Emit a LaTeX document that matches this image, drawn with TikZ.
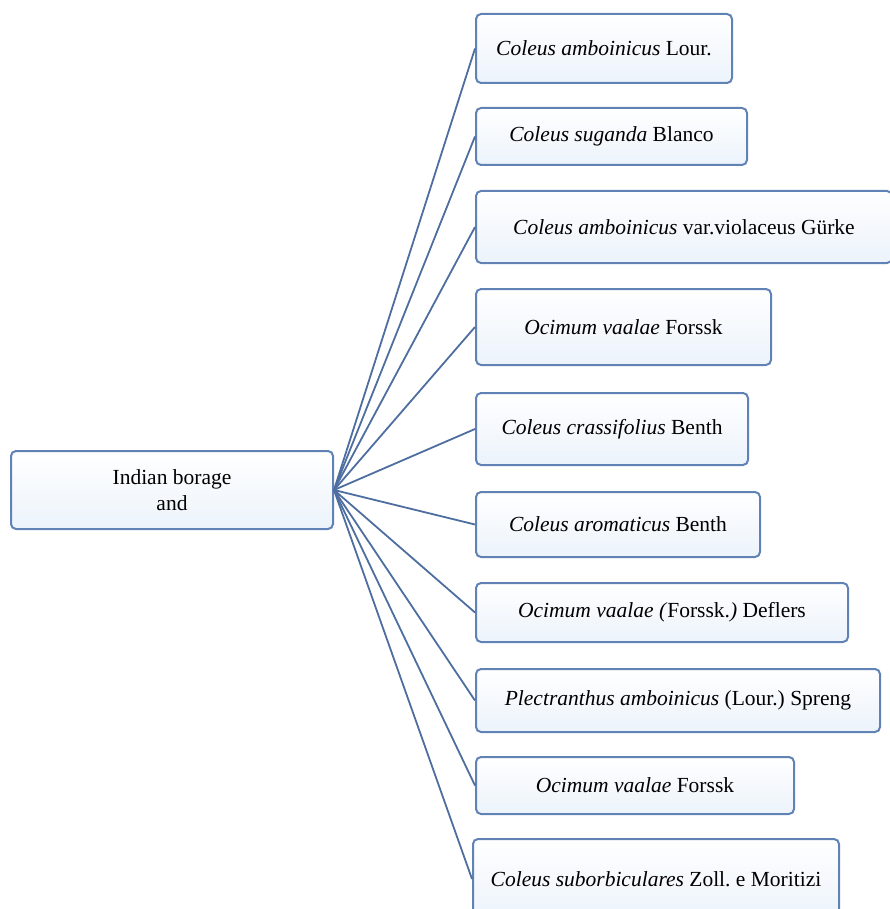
\documentclass[tikz,border=0pt]{standalone}
\usepackage{fontspec}
\setmainfont{Liberation Serif}
\usetikzlibrary{shapes}
\frenchspacing
\definecolor{bxline}{RGB}{96,130,180}
\definecolor{lnk}{RGB}{78,110,160}
\definecolor{bxfill}{RGB}{236,243,251}
\tikzstyle{bx}=[draw=bxline,line width=2pt,rounded corners=5pt,top color=white,bottom color=bxfill,
  anchor=north west,inner sep=2pt,align=center,font=\fontsize{21.5}{26}\selectfont]
\tikzstyle{lk}=[draw=lnk,line width=1.8pt]

\begin{document}
\begin{tikzpicture}[x=1pt,y=-1pt]
\useasboundingbox (0,0) rectangle (889,909);
\node[bx,minimum width=322pt,minimum height=78pt] (root) at (10,450) {Indian borage\\and};
\node[bx,minimum width=256pt,minimum height=69pt] (s1) at (475,13) {\textit{Coleus amboinicus} Lour.};
\node[bx,minimum width=271pt,minimum height=57pt] (s2) at (475,107) {\textit{Coleus suganda} Blanco};
\node[bx,minimum width=416pt,minimum height=72pt] (s3) at (475,190) {\textit{Coleus amboinicus} var.violaceus Gürke};
\node[bx,minimum width=295pt,minimum height=76pt] (s4) at (475,288) {\textit{Ocimum vaalae} Forssk};
\node[bx,minimum width=272pt,minimum height=72pt] (s5) at (475,392) {\textit{Coleus crassifolius} Benth};
\node[bx,minimum width=284pt,minimum height=65pt] (s6) at (475,491) {\textit{Coleus aromaticus} Benth};
\node[bx,minimum width=372pt,minimum height=59pt] (s7) at (475,582) {\textit{Ocimum vaalae (}Forssk.\textit{)} Deflers};
\node[bx,minimum width=404pt,minimum height=63pt] (s8) at (475,668) {\textit{Plectranthus amboinicus} (Lour.) Spreng};
\node[bx,minimum width=318pt,minimum height=57pt] (s9) at (475,756) {\textit{Ocimum vaalae} Forssk};
\node[bx,minimum width=366pt,minimum height=80pt] (s10) at (472,838) {\textit{Coleus suborbiculares} Zoll. e Moritizi};
% links
\draw[lk] (root.east) -- (s1.west);
\draw[lk] (root.east) -- (s2.west);
\draw[lk] (root.east) -- (s3.west);
\draw[lk] (root.east) -- (s4.west);
\draw[lk] (root.east) -- (s5.west);
\draw[lk] (root.east) -- (s6.west);
\draw[lk] (root.east) -- (s7.west);
\draw[lk] (root.east) -- (s8.west);
\draw[lk] (root.east) -- (s9.west);
\draw[lk] (root.east) -- (s10.west);
\end{tikzpicture}
\end{document}
